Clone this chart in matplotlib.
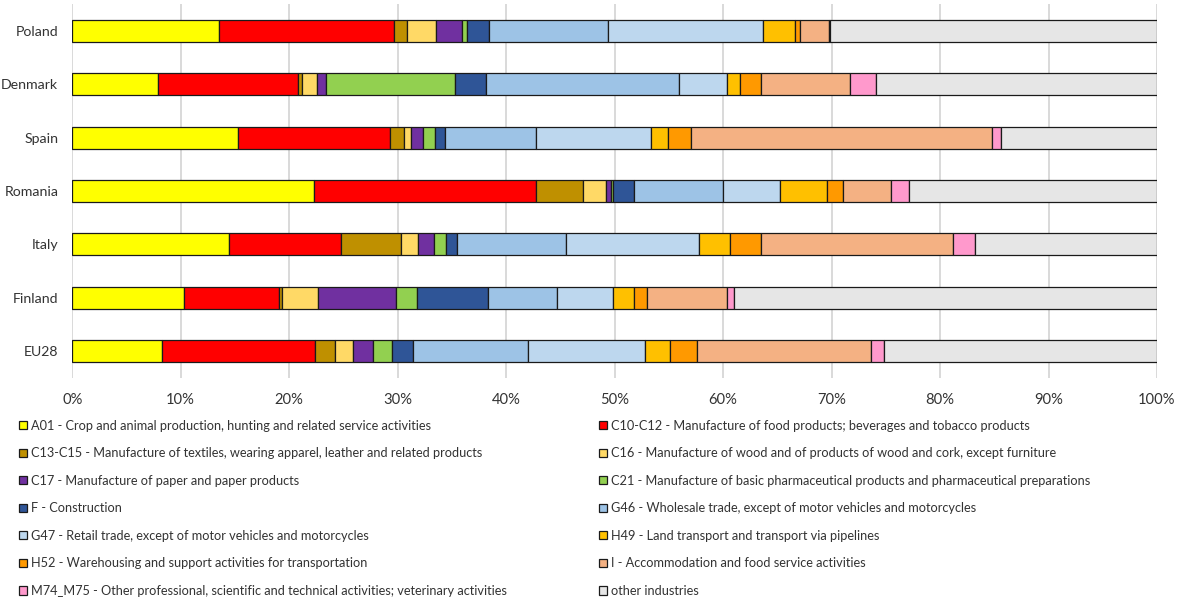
"""Stacked 100% bar chart: industry share by country."""

import matplotlib

matplotlib.use("Agg")
import matplotlib.pyplot as plt
from matplotlib.ticker import PercentFormatter

plt.rcParams["font.family"] = ["Lato", "DejaVu Sans"]

countries = ["Poland", "Denmark", "Spain", "Romania", "Italy", "Finland", "EU28"]

industries = [
    "A01 - Crop and animal production, hunting and related service activities",
    "C10-C12 - Manufacture of food products; beverages and tobacco products",
    "C13-C15 - Manufacture of textiles, wearing apparel, leather and related products",
    "C16 - Manufacture of wood and of products of wood and cork, except furniture",
    "C17 - Manufacture of paper and paper products",
    "C21 - Manufacture of basic pharmaceutical products and pharmaceutical preparations",
    "F - Construction",
    "G46 - Wholesale trade, except of motor vehicles and motorcycles",
    "G47 - Retail trade, except of motor vehicles and motorcycles",
    "H49 - Land transport and transport via pipelines",
    "H52 - Warehousing and support activities for transportation",
    "I - Accommodation and food service activities",
    "M74_M75 - Other professional, scientific and technical activities; veterinary activities",
    "other industries",
]

colors = [
    "#FFFF00", "#FF0000", "#BF9000", "#FFD966", "#7030A0", "#92D050", "#2F5597",
    "#9DC3E6", "#BDD7EE", "#FFC000", "#FF9900", "#F4B183", "#FF99CC", "#E6E6E6",
]

# shares in % per industry, same order as countries
a01 = [13.5, 7.9, 15.25, 22.3, 14.5, 10.3, 8.25]
c10_c12 = [16.2, 12.9, 14.0, 20.45, 10.3, 8.8, 14.1]
c13_c15 = [1.2, 0.4, 1.3, 4.35, 5.5, 0.2, 1.85]
c16 = [2.6, 1.4, 0.7, 2.1, 1.55, 3.4, 1.65]
c17 = [2.4, 0.8, 1.05, 0.45, 1.5, 7.15, 1.85]
c21 = [0.5, 11.9, 1.15, 0.2, 1.15, 1.95, 1.75]
f_constr = [2.0, 2.8, 0.9, 1.9, 1.0, 6.5, 2.0]
g46 = [11.0, 17.8, 8.4, 8.2, 10.0, 6.35, 10.55]
g47 = [14.3, 4.5, 10.65, 5.3, 12.3, 5.2, 10.8]
h49 = [2.9, 1.2, 1.5, 4.3, 2.85, 1.9, 2.3]
h52 = [0.5, 1.9, 2.1, 1.55, 2.8, 1.2, 2.5]
i_accom = [2.7, 8.2, 27.75, 4.35, 17.7, 7.4, 16.0]
m74_m75 = [0.1, 2.4, 0.85, 1.7, 2.05, 0.7, 1.25]
other = [30.1, 25.9, 14.4, 22.85, 16.8, 38.95, 25.15]

series = [a01, c10_c12, c13_c15, c16, c17, c21, f_constr, g46, g47,
          h49, h52, i_accom, m74_m75, other]


def main() -> None:
    W, H = 1177, 602
    fs = 9.2
    fig = plt.figure(figsize=(W / 100, H / 100), dpi=100)
    ax = fig.add_axes([72.2 / W, 1 - 377.7 / H, (1157 - 72.2) / W, (377.7 - 4.3) / H])

    ypos = list(range(len(countries)))
    left = [0.0] * len(countries)
    handles = []
    for name, vals, col in zip(industries, series, colors):
        bars = ax.barh(ypos, [v / 100 for v in vals], left=left, height=0.41,
                       color=col, edgecolor="#1a1a1a", linewidth=0.9,
                       label=name, zorder=3)
        handles.append(bars)
        left = [l + v / 100 for l, v in zip(left, vals)]

    ax.set_xlim(0, 1)
    ax.set_ylim(len(countries) - 0.5, -0.5)
    ax.set_yticks(ypos)
    ax.set_yticklabels(countries)
    ax.set_xticks([i / 10 for i in range(11)])
    ax.xaxis.set_major_formatter(PercentFormatter(1.0, decimals=0))
    ax.tick_params(axis="both", length=0, labelsize=10.6, colors="#333333")
    ax.tick_params(axis="x", pad=11)
    ax.tick_params(axis="y", pad=10, labelsize=10.2)
    ax.grid(axis="x", color="#d9d9d9", linewidth=1.4, zorder=0)
    for sp in ax.spines.values():
        sp.set_visible(False)

    common = dict(frameon=False, fontsize=fs, handlelength=0.6, handleheight=0.6,
                  handletextpad=0.35, labelspacing=1.22, borderpad=0, borderaxespad=0,
                  loc="upper left", labelcolor="#333333")
    fig.legend(handles[0::2], industries[0::2],
               bbox_to_anchor=(19 / W, 1 - 419.5 / H), **common)
    fig.legend(handles[1::2], industries[1::2],
               bbox_to_anchor=(599 / W, 1 - 419.5 / H), **common)

    fig.savefig("out.png", dpi=100)
    plt.close(fig)


if __name__ == "__main__":
    main()
